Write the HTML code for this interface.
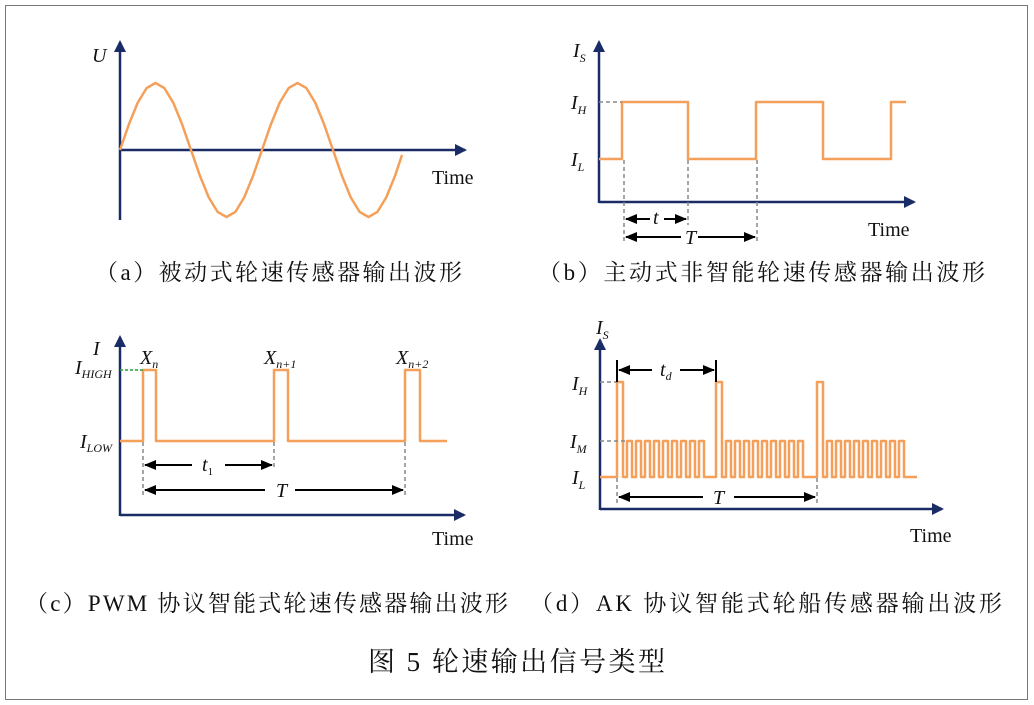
<!DOCTYPE html>
<html><head><meta charset="utf-8"><style>
html,body{margin:0;padding:0;background:#fff;}
svg{display:block;}
text{font-family:"Liberation Serif","Noto Serif CJK SC",serif;fill:#111;}
.cap{font-size:23px;}
.it{font-style:italic;font-size:20px;}
.sub{font-style:italic;font-size:12px;}
</style></head><body>
<svg width="1034" height="705" viewBox="0 0 1034 705" xmlns="http://www.w3.org/2000/svg">
<rect x="5.5" y="5.5" width="1022" height="694" fill="#fff" stroke="#777" stroke-width="1"/>
<defs>
<marker id="ax" markerWidth="12" markerHeight="12" refX="10" refY="6" orient="auto" markerUnits="userSpaceOnUse"><path d="M0,0 L12,6 L0,12 Z" fill="#1a2c66"/></marker>
<marker id="ar" markerWidth="12" markerHeight="10" refX="11" refY="5" orient="auto-start-reverse" markerUnits="userSpaceOnUse"><path d="M0,0 L12,5 L0,10 Z" fill="#000"/></marker>
</defs>
<g stroke="#1a2c66" stroke-width="2.5" fill="none">
<line x1="120" y1="220" x2="120" y2="42" marker-end="url(#ax)"/>
<line x1="120" y1="150" x2="465" y2="150" marker-end="url(#ax)"/>
<line x1="599" y1="203" x2="599" y2="42" marker-end="url(#ax)"/>
<line x1="599" y1="202" x2="914" y2="202" marker-end="url(#ax)"/>
<line x1="120" y1="516" x2="120" y2="337" marker-end="url(#ax)"/>
<line x1="120" y1="515" x2="464" y2="515" marker-end="url(#ax)"/>
<line x1="600" y1="510" x2="600" y2="340" marker-end="url(#ax)"/>
<line x1="600" y1="509" x2="942" y2="509" marker-end="url(#ax)"/>
</g>
<g stroke="#f4a05a" stroke-width="2.5" fill="none" stroke-linejoin="round">
<polyline points="120,150 128.9,124.3 137.75,102.6 146.6,88.1 155.5,83 164.4,88.1 173.25,102.6 182.1,124.3 191,150 199.9,175.7 208.75,197.4 217.6,211.9 226.5,217 235.4,211.9 244.25,197.4 253.1,175.7 262,150 270.9,124.3 279.75,102.6 288.6,88.1 297.5,83 306.4,88.1 315.25,102.6 324.1,124.3 333,150 341.9,175.7 350.75,197.4 359.6,211.9 368.5,217 377.4,211.9 386.25,197.4 395.1,175.7 402,155"/>
<path d="M599,159 H622 V102 H688 V159 H756 V102 H823 V159 H891 V102 H906"/>
<path d="M120,441 H143 V370 H156 V441 H274 V370 H288 V441 H405 V370 H420 V441 H447"/>
<path d="M600,477 H617 V382 H623 V477 h4 v-36 h5 v36 h4 v-36 h5 v36 h4 v-36 h5 v36 h4 v-36 h5 v36 h4 v-36 h5 v36 h4 v-36 h5 v36 h4 v-36 h5 v36 h4 v-36 h5 v36 h4 v-36 h5 v36 H716 V382 H722 V477 h4 v-36 h5 v36 h4 v-36 h5 v36 h4 v-36 h5 v36 h4 v-36 h5 v36 h4 v-36 h5 v36 h4 v-36 h5 v36 h4 v-36 h5 v36 h4 v-36 h5 v36 h4 v-36 h5 v36 H817 V382 H823 V477 h4 v-36 h5 v36 h4 v-36 h5 v36 h4 v-36 h5 v36 h4 v-36 h5 v36 h4 v-36 h5 v36 h4 v-36 h5 v36 h4 v-36 h5 v36 h4 v-36 h5 v36 h4 v-36 h5 v36 H917"/>
</g>
<g stroke="#888" stroke-width="1.5" stroke-dasharray="4,3" fill="none">
<line x1="599" y1="102" x2="622" y2="102"/>
<line x1="624" y1="160" x2="624" y2="243"/>
<line x1="688" y1="160" x2="688" y2="225"/>
<line x1="757" y1="160" x2="757" y2="243"/>
<line x1="143" y1="442" x2="143" y2="498"/>
<line x1="274" y1="442" x2="274" y2="470"/>
<line x1="405" y1="442" x2="405" y2="498"/>
<line x1="600" y1="382" x2="617" y2="382"/>
<line x1="600" y1="441" x2="625" y2="441"/>
<line x1="617" y1="478" x2="617" y2="504"/>
<line x1="817" y1="478" x2="817" y2="504"/>
</g>
<line x1="120" y1="370" x2="143" y2="370" stroke="#2a9d3a" stroke-width="1.5" stroke-dasharray="3,2"/>
<g stroke="#000" stroke-width="2" fill="none">
<line x1="626" y1="219" x2="650" y2="219" marker-start="url(#ar)"/><line x1="664" y1="219" x2="686" y2="219" marker-end="url(#ar)"/>
<line x1="626" y1="237" x2="681" y2="237" marker-start="url(#ar)"/><line x1="698" y1="237" x2="755" y2="237" marker-end="url(#ar)"/>
<line x1="145" y1="465" x2="192" y2="465" marker-start="url(#ar)"/><line x1="225" y1="465" x2="272" y2="465" marker-end="url(#ar)"/>
<line x1="145" y1="490" x2="265" y2="490" marker-start="url(#ar)"/><line x1="295" y1="490" x2="403" y2="490" marker-end="url(#ar)"/>
<line x1="619" y1="370" x2="652" y2="370" marker-start="url(#ar)"/><line x1="680" y1="370" x2="714" y2="370" marker-end="url(#ar)"/>
<line x1="617" y1="360" x2="617" y2="382"/><line x1="716" y1="360" x2="716" y2="382"/>
<line x1="619" y1="497" x2="703" y2="497" marker-start="url(#ar)"/><line x1="734" y1="497" x2="815" y2="497" marker-end="url(#ar)"/>
</g>
<text x="92" y="62" class="it">U</text>
<text x="432" y="184" font-size="20">Time</text>
<text x="573" y="57" class="it">I<tspan class="sub" dy="5">S</tspan></text>
<text x="571" y="109" class="it">I<tspan class="sub" dy="5">H</tspan></text>
<text x="571" y="166" class="it">I<tspan class="sub" dy="5">L</tspan></text>
<text x="868" y="236" font-size="20">Time</text>
<text x="653" y="224" class="it" font-size="17">t</text>
<text x="685" y="244" class="it" font-size="17">T</text>
<text x="93" y="355" class="it" font-size="24">I</text>
<text x="75" y="374" class="it">I<tspan class="sub" dy="4" font-size="11">HIGH</tspan></text>
<text x="80" y="448" class="it">I<tspan class="sub" dy="4">LOW</tspan></text>
<text x="140" y="364" class="it" font-size="17">X<tspan class="sub" dy="4" font-size="11">n</tspan></text>
<text x="264" y="364" class="it" font-size="17">X<tspan class="sub" dy="4" font-size="11">n+1</tspan></text>
<text x="396" y="364" class="it" font-size="17">X<tspan class="sub" dy="4" font-size="11">n+2</tspan></text>
<text x="202" y="471" class="it" font-size="18">t<tspan font-size="11" font-style="normal" dy="4">1</tspan></text>
<text x="276" y="497" class="it" font-size="18">T</text>
<text x="432" y="545" font-size="20">Time</text>
<text x="596" y="334" class="it">I<tspan class="sub" dy="5">S</tspan></text>
<text x="572" y="390" class="it">I<tspan class="sub" dy="5">H</tspan></text>
<text x="570" y="448" class="it">I<tspan class="sub" dy="5">M</tspan></text>
<text x="572" y="484" class="it">I<tspan class="sub" dy="5">L</tspan></text>
<text x="660" y="376" class="it" font-size="17">t<tspan class="sub" dy="4" font-size="11">d</tspan></text>
<text x="713" y="504" class="it" font-size="18">T</text>
<text x="910" y="542" font-size="20">Time</text>
<text x="95" y="280" class="cap" textLength="367" lengthAdjust="spacing">（a）被动式轮速传感器输出波形</text>
<text x="538" y="280" class="cap" textLength="447" lengthAdjust="spacing">（b）主动式非智能轮速传感器输出波形</text>
<text x="25" y="611" class="cap" textLength="483" lengthAdjust="spacing">（c）PWM 协议智能式轮速传感器输出波形</text>
<text x="530" y="611" class="cap" textLength="472" lengthAdjust="spacing">（d）AK 协议智能式轮船传感器输出波形</text>
<text x="368" y="671" font-size="27" textLength="297" lengthAdjust="spacing">图 5  轮速输出信号类型</text>
</svg>
</body></html>
